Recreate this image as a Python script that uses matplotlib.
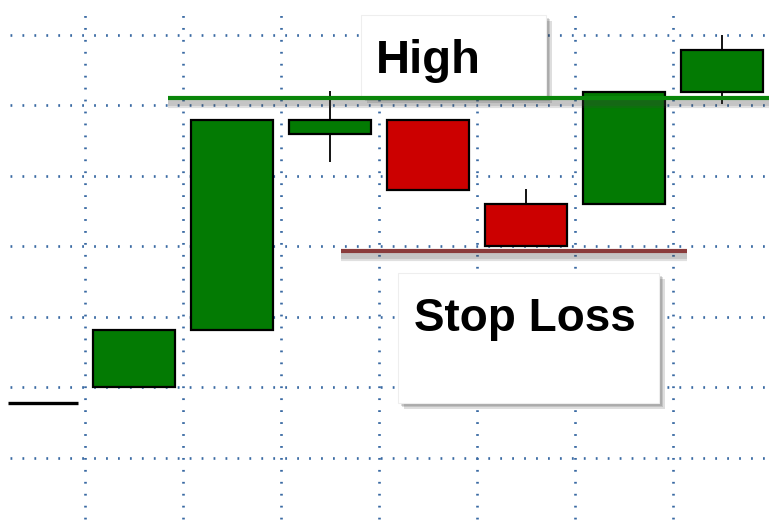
import matplotlib
matplotlib.use('Agg')
import matplotlib.pyplot as plt
import matplotlib.patheffects as pe
from matplotlib.patches import Rectangle
import numpy as np

plt.rcParams['font.family'] = ['Liberation Sans', 'DejaVu Sans']
plt.rcParams['lines.scale_dashes'] = False

# candle data (index, open, close, high, low)
idx = [1, 2, 3, 4, 5, 6, 7]
opens = [20.0, 28.2, 56.0, 57.9, 46.0, 46.0, 61.9]
closes = [28.2, 57.9, 57.9, 48.0, 40.1, 61.9, 67.9]
highs = [28.2, 57.9, 62.1, 57.9, 48.2, 61.9, 70.0]
lows = [20.0, 28.2, 52.0, 48.0, 40.1, 46.0, 60.2]

prev_close = 17.8
high_level = 61.1
stop_level = 39.4

grid_y = [10, 20, 30, 40, 50, 60, 70]
grid_x = [0.5, 1.5, 2.5, 3.5, 4.5, 5.5, 6.5]

up_col = '#037a03'
down_col = '#cc0000'

fig = plt.figure(figsize=(7.69, 5.29), dpi=100)
ax = fig.add_axes([0, 0, 1, 1])
ax.set_xlim(-0.367, 7.48)
ax.set_ylim(-0.07, 74.96)
ax.axis('off')

# dotted grid
dot = (0, (1.3, 7.3))
grid_col = '#3a6aa3'
ax.hlines(grid_y, -0.265, 7.48, colors=grid_col, linestyles=[dot], linewidth=1.9, zorder=1)
ax.vlines(grid_x, 1.35, 72.98, colors=grid_col, linestyles=[dot], linewidth=1.9, zorder=1)

# candles
ax.vlines(idx, lows, highs, colors='black', linewidth=1.3, zorder=2)
for i in range(len(idx)):
    c = up_col if closes[i] >= opens[i] else down_col
    ax.bar(idx[i], closes[i] - opens[i], bottom=opens[i], width=0.84,
           color=c, edgecolor='black', linewidth=1.6, zorder=3)

# previous close stub
ax.hlines(prev_close, -0.286, 0.43, colors='black', linewidth=2.4, zorder=3)

line_shadow = [pe.SimpleLineShadow(offset=(0, -k), alpha=0.16, shadow_color='#444444')
               for k in (1.5, 3, 4.5, 6)] + [pe.Normal()]
box_shadow = [pe.SimplePatchShadow(offset=(k, -k), alpha=0.16, shadow_rgbFace='#333333')
              for k in (1, 2, 3, 4.5)] + [pe.Normal()]

# high / stop levels
ax.plot([1.347, 7.6], [high_level, high_level], color='#0a860a', linewidth=3,
        zorder=5, path_effects=line_shadow, solid_capstyle='butt')
ax.plot([3.112, 6.643], [stop_level, stop_level], color='#8a3c3c', linewidth=3,
        zorder=5, path_effects=line_shadow, solid_capstyle='butt')

# labels in boxes
r1 = Rectangle((3.316, 61.21), 5.204 - 3.316, 72.84 - 61.21, facecolor='white',
               edgecolor='#eeeeee', linewidth=0.8, zorder=4, path_effects=box_shadow)
ax.add_patch(r1)
ax.text(3.469, 64.61, 'High', fontsize=34, fontweight='bold', va='baseline', zorder=6)

r2 = Rectangle((3.694, 17.80), 6.357 - 3.694, 36.24 - 17.80, facecolor='white',
               edgecolor='#eeeeee', linewidth=0.8, zorder=4, path_effects=box_shadow)
ax.add_patch(r2)
ax.text(3.857, 28.01, 'Stop Loss', fontsize=33, fontweight='bold', va='baseline', zorder=6)

plt.savefig('out.png', dpi=100)
